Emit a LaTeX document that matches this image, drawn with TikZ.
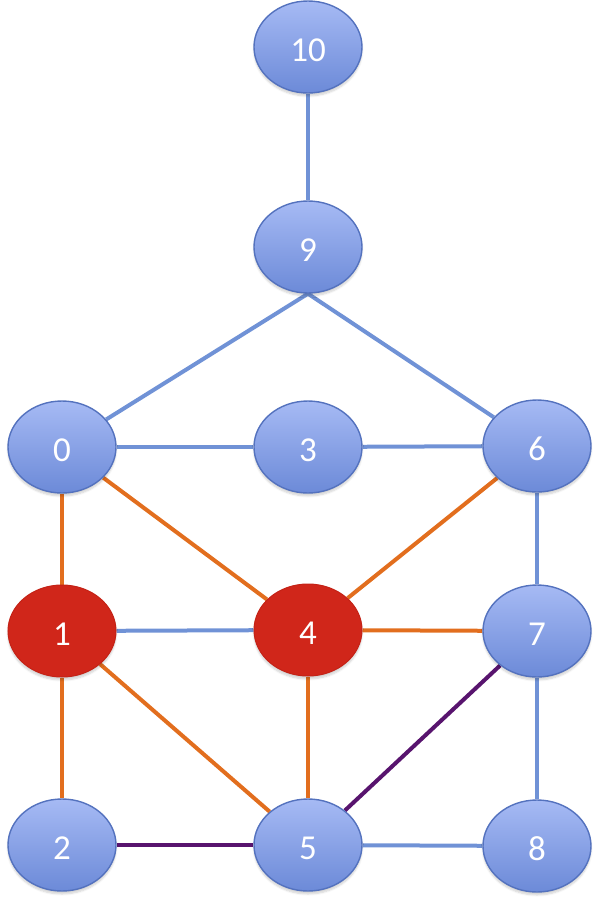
\documentclass[tikz,border=0pt]{standalone}
\usepackage{fontspec}
\setmainfont{Carlito}
\usetikzlibrary{shapes.geometric,shadows.blur}
\definecolor{nodetop}{RGB}{166,186,244}
\definecolor{nodebot}{RGB}{108,138,216}
\definecolor{nodeline}{RGB}{84,114,190}
\definecolor{redfill}{RGB}{208,38,26}
\definecolor{redline}{RGB}{196,34,22}
\definecolor{eblue}{RGB}{112,146,214}
\definecolor{eorange}{RGB}{226,110,30}
\definecolor{epurple}{RGB}{88,20,110}
\pgfdeclarelayer{bg}
\pgfsetlayers{bg,main}
\tikzset{
  vtx/.style={ellipse, minimum width=108pt, minimum height=92pt, inner sep=0pt,
    text=white, font=\fontsize{35}{40}\selectfont, text height=29pt, text depth=0pt,
    blur shadow={shadow xshift=0pt, shadow yshift=-3pt, shadow opacity=18, shadow blur steps=6}},
  bluev/.style={vtx, draw=nodeline, line width=1.4pt, top color=nodetop, bottom color=nodebot},
  redv/.style={vtx, draw=redline, line width=1pt, fill=redfill},
  eb/.style={draw=eblue, line width=4pt},
  eo/.style={draw=eorange, line width=4pt},
  ep/.style={draw=epurple, line width=4pt},
}
\begin{document}
\begin{tikzpicture}[x=1pt,y=-1pt]
\useasboundingbox (0,0) rectangle (600,906);
% nodes
\node[bluev] (n10) at (308,47) {10};
\node[bluev] (n9) at (308,247) {9};
\node[bluev] (n0) at (62,447) {0};
\node[bluev] (n3) at (308,447) {3};
\node[bluev] (n6) at (537,446) {6};
\node[redv] (n1) at (62,631) {1};
\node[redv] (n4) at (308,630) {4};
\node[bluev] (n7) at (537,631) {7};
\node[bluev] (n2) at (62,845) {2};
\node[bluev] (n5) at (308,845) {5};
\node[bluev] (n8) at (537,846) {8};
% edges behind nodes
\begin{pgfonlayer}{bg}
\draw[eb] (n10) -- (n9);
\draw[eb] (n9.south) -- (n0);
\draw[eb] (n9.south) -- (n6);
\draw[eb] (n0) -- (n3);
\draw[eb] (n3) -- (n6);
\draw[eo] (n0) -- (n1);
\draw[eo] (n0) -- (n4);
\draw[eo] (n6) -- (n4);
\draw[eb] (n6) -- (n7);
\draw[eb] (n1) -- (n4);
\draw[eo] (n4) -- (n7);
\draw[eo] (n1) -- (n2);
\draw[eo] (n1) -- (n5);
\draw[eo] (n4) -- (n5);
\draw[ep] (n7) -- (n5);
\draw[eb] (n7) -- (n8);
\draw[ep] (n2) -- (n5);
\draw[eb] (n5) -- (n8);
\end{pgfonlayer}
\end{tikzpicture}
\end{document}
